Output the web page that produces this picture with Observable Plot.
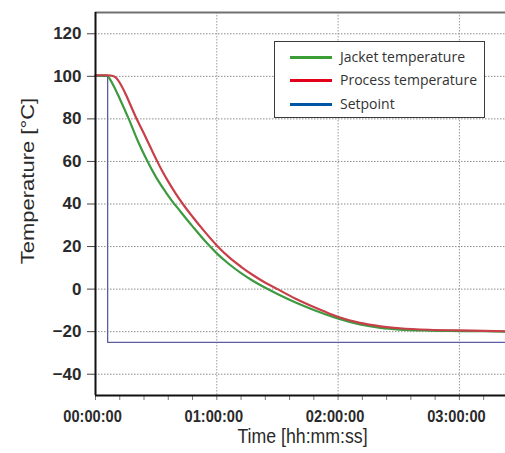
<!DOCTYPE html>
<html>
<head>
<meta charset="utf-8">
<script src="https://cdn.jsdelivr.net/npm/d3@7"></script>
<script src="https://cdn.jsdelivr.net/npm/@observablehq/plot@0.6"></script>
<style>
  html, body { margin: 0; padding: 0; background: #fff; }
  #wrap { position: relative; width: 505px; height: 453px; overflow: hidden; }
  #legend {
    position: absolute; left: 274px; top: 41px; width: 209px; height: 75px;
    border: 1px solid #3a3a3a; background: #fff;
    font-family: "Open Sans", "Noto Sans", sans-serif; font-size: 14px; color: #333;
  }
  .entry { position: absolute; left: 0; height: 20px; }
  .swatch { position: absolute; left: 15px; top: 9px; width: 42px; height: 3px; }
  .label { position: absolute; left: 65px; top: 0; white-space: nowrap; line-height: 20px; }
</style>
</head>
<body>
<div id="wrap"><div id="legend"></div></div>
<script>
// ---- data (time in hours, temperature in °C) ----
const seriesNames = ["Jacket temperature", "Process temperature", "Setpoint"];
const legendColors = ["#3a9d35", "#e2001a", "#0055a5"];
const lineColors = ["#3d9a40", "#c83f4a", "#5c5ca4"];

const jacketTime = [0, 0.1, 0.115, 0.15, 0.2, 0.274, 0.35, 0.42, 0.5, 0.58, 0.63, 0.7, 0.8, 0.92, 1.0, 1.1, 1.2, 1.3, 1.4, 1.5, 1.65, 1.8, 1.9, 2.01, 2.18, 2.35, 2.51, 2.75, 3.0, 3.2, 3.38];
const jacketTemp = [100.3, 100.3, 99, 95.5, 89.5, 80, 69.5, 61, 52.5, 45.5, 41.5, 36.5, 29.5, 21.5, 16.8, 11.8, 7.5, 3.8, 0.6, -2.3, -6.3, -9.8, -11.9, -14, -16.6, -18.2, -19.0, -19.5, -19.7, -19.8, -20];

const processTime = [0, 0.1, 0.15, 0.175, 0.2, 0.25, 0.3, 0.335, 0.4, 0.45, 0.505, 0.55, 0.6, 0.66, 0.72, 0.8, 0.9, 1.0, 1.1, 1.2, 1.3, 1.4, 1.5, 1.65, 1.8, 1.9, 2.01, 2.18, 2.35, 2.51, 2.75, 3.0, 3.2, 3.38];
const processTemp = [100.5, 100.5, 100, 99, 97, 91.5, 85, 80.5, 73, 67, 60.5, 55.5, 50.5, 45, 40, 34, 27, 20.5, 15, 10.5, 6.5, 3, 0, -4.5, -8.4, -10.8, -13.2, -15.9, -17.5, -18.4, -19.1, -19.4, -19.6, -19.8];

const setpointTime = [0, 0.1, 0.1, 3.38];
const setpointTemp = [100, 100, -25, -25];

const yTicks = [-40, -20, 0, 20, 40, 60, 80, 100, 120];
const xTicks = [0, 1, 2, 3];
const xTickLabels = ["00:00:00", "01:00:00", "02:00:00", "03:00:00"];
const xMinorTicks = [0, 0.2, 0.4, 0.6, 0.8, 1, 1.2, 1.4, 1.6, 1.8, 2, 2.2, 2.4, 2.6, 2.8, 3, 3.2];
const xLabel = "Time [hh:mm:ss]";
const yLabel = "Temperature [°C]";

// ---- build ----
const rows = (ts, vs) => ts.map((t, i) => ({t, v: vs[i]}));
const jacket = rows(jacketTime, jacketTemp);
const process = rows(processTime, processTemp);
const setpoint = rows(setpointTime, setpointTemp);

const sans = "'Liberation Sans', Arial, sans-serif";

const chart = Plot.plot({
  width: 505,
  height: 453,
  marginLeft: 95,
  marginRight: 0,
  marginTop: 12,
  marginBottom: 58,
  style: {fontFamily: sans, fontSize: "17px", color: "#2a2a2a", background: "transparent", overflow: "visible"},
  x: {domain: [0, 3.38]},
  y: {domain: [-50, 130]},
  marks: [
    // grid
    Plot.ruleY(yTicks, {stroke: "#8c8c8c", strokeDasharray: "1.5,1.5", strokeWidth: 1}),
    Plot.ruleX(xTicks.slice(1), {stroke: "#999", strokeDasharray: "1.5,1.5", strokeWidth: 1}),
    // frame top
    Plot.ruleY([130], {stroke: "#707070", strokeWidth: 2}),
    // axes
    Plot.axisY(yTicks, {tickSize: 8, tickPadding: 6, stroke: "#444", fontSize: 17, fontWeight: "bold", fill: "#2a2a2a", label: null}),
    Plot.axisX(xMinorTicks, {tickSize: 5, stroke: "#777", text: null, label: null}),
    Plot.axisX(xTicks, {tickSize: 0, tickPadding: 14, dx: -3, fontSize: 17, fontWeight: "bold", fill: "#2a2a2a",
      tickFormat: d => xTickLabels[xTicks.indexOf(d)], label: null, className: "xticklab"}),
    Plot.text([xLabel], {frameAnchor: "bottom", dx: 2, dy: 47, fontSize: 20, fill: "#2a2a2a", className: "xtitle"}),
    Plot.text([yLabel], {frameAnchor: "left", textAnchor: "middle", rotate: -90, dx: -67, dy: -23, fontSize: 22, fill: "#2a2a2a", className: "ytitle"}),
    // data
    Plot.line(setpoint, {x: "t", y: "v", stroke: lineColors[2], strokeWidth: 1.3}),
    Plot.line(jacket, {x: "t", y: "v", stroke: lineColors[0], strokeWidth: 2.2, curve: "monotone-x"}),
    Plot.line(process, {x: "t", y: "v", stroke: lineColors[1], strokeWidth: 2.2, curve: "monotone-x"}),
    // axis lines
    Plot.ruleX([0], {stroke: "#111", strokeWidth: 2}),
    Plot.ruleY([-50], {stroke: "#111", strokeWidth: 2})
  ]
});
document.getElementById("wrap").prepend(chart);

// condense the horizontally written axis texts (the reference uses a narrow face)
function condense(selector, factor) {
  chart.querySelectorAll(selector).forEach(t => {
    const w = t.getComputedTextLength();
    t.setAttribute("textLength", (w * factor).toFixed(1));
    t.setAttribute("lengthAdjust", "spacingAndGlyphs");
  });
}
condense(".xticklab text", 0.86);
condense(".xtitle text", 0.885);
// the rotated title has its glyph heights squeezed in the reference
chart.querySelectorAll(".ytitle text").forEach(t => {
  const tr = t.getAttribute("transform") || "";
  t.setAttribute("transform", tr + " scale(1,0.85)");
});

// legend
const legend = document.getElementById("legend");
const rowTops = [5, 28, 52];
seriesNames.forEach((name, i) => {
  const e = document.createElement("div");
  e.className = "entry";
  e.style.top = rowTops[i] + "px";
  e.innerHTML = `<div class="swatch" style="background:${legendColors[i]}"></div><div class="label">${name}</div>`;
  legend.appendChild(e);
});
</script>
</body>
</html>
